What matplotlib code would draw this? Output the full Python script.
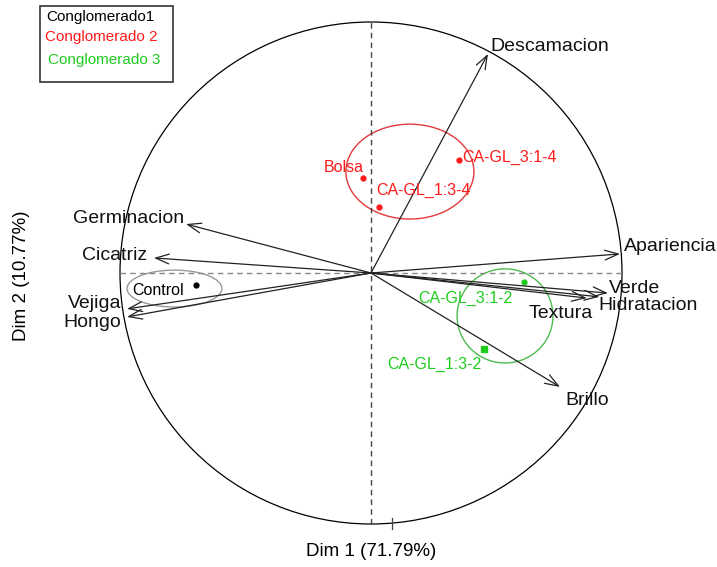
import numpy as np
import matplotlib.pyplot as plt
from matplotlib.patches import Ellipse, Circle, Rectangle

plt.rcParams['font.family'] = ['Liberation Sans', 'DejaVu Sans']

# Variables (correlation circle coordinates)
variables = ['Descamacion', 'Apariencia', 'Verde', 'Hidratacion', 'Textura',
             'Brillo', 'Germinacion', 'Cicatriz', 'Vejiga', 'Hongo']
var_x = [0.466, 0.992, 0.944, 0.91, 0.86, 0.753, -0.737, -0.865, -0.972, -0.972]
var_y = [0.873, 0.076, -0.080, -0.095, -0.100, -0.454, 0.195, 0.060, -0.143, -0.175]

# Treatments (projected individuals)
treatments = ['Control', 'Bolsa', 'CA-GL_1:3-4', 'CA-GL_3:1-4', 'CA-GL_3:1-2', 'CA-GL_1:3-2']
trt_x = [-0.697, -0.032, 0.032, 0.351, 0.610, 0.450]
trt_y = [-0.048, 0.378, 0.263, 0.450, -0.036, -0.303]
trt_cluster = [0, 1, 1, 1, 2, 2]

# Cluster ellipses: centre, width, height
clusters = ['Conglomerado1', 'Conglomerado 2', 'Conglomerado 3']
ell_cx = [-0.783, 0.155, 0.534]
ell_cy = [-0.062, 0.404, -0.171]
ell_w = [0.378, 0.510, 0.382]
ell_h = [0.147, 0.378, 0.375]

dim1 = 71.79
dim2 = 10.77

text_col = ['black', '#FF1A1A', '#1FCC1F']
ell_col = ['#999999', '#E23A3A', '#4DBB4D']

W, H = 717, 567
fig = plt.figure(figsize=(W / 100, H / 100), dpi=100)

# unit circle centred at pixel (371, 273), radius 251 px
cx, cy, r = 371, 273, 251
lim = 1.5
ax = fig.add_axes([(cx - lim * r) / W, (H - cy - lim * r) / H, 2 * lim * r / W, 2 * lim * r / H])
ax.set_xlim(-lim, lim)
ax.set_ylim(-lim, lim)
ax.set_aspect('equal')
ax.axis('off')

ax.add_patch(Circle((0, 0), 1, fill=False, color='black', lw=0.9))
ax.plot([-1, 1], [0, 0], ls=(0, (4, 3)), color='#888888', lw=1)
ax.plot([0, 0], [-1, 1], ls=(0, (4, 3)), color='#444444', lw=1)
ax.plot([0.084, 0.084], [-0.976, -1.02], color='#444444', lw=0.9)

# arrows and labels
for name, x, y in zip(variables, var_x, var_y):
    ax.annotate('', xy=(x, y), xytext=(0, 0),
                arrowprops=dict(arrowstyle='->,head_length=0.6,head_width=0.22',
                                color='#222222', lw=0.9,
                                mutation_scale=16, shrinkA=0, shrinkB=0))

var_off = {'Descamacion': (2, 5, 'left'), 'Apariencia': (3, 5, 'left'),
           'Verde': (1, 3, 'left'), 'Hidratacion': (-1, -6, 'left'),
           'Textura': (-42, -11, 'left'), 'Brillo': (4, -10, 'left'),
           'Germinacion': (-1, 4, 'right'), 'Cicatriz': (-5, 2, 'right'),
           'Vejiga': (-4, 4, 'right'), 'Hongo': (-4, -4, 'right')}
for name, x, y in zip(variables, var_x, var_y):
    dx, dy, ha = var_off[name]
    ax.annotate(name, (x, y), xytext=(dx, dy), textcoords='offset points',
                ha=ha, va='center', fontsize=14, color='#111111')

# cluster ellipses
for i in range(len(clusters)):
    ax.add_patch(Ellipse((ell_cx[i], ell_cy[i]), ell_w[i], ell_h[i], fill=False,
                         color=ell_col[i], lw=1))

# treatment points and labels
trt_off = {'Control': (-27, -4), 'Bolsa': (-14, 8), 'CA-GL_1:3-4': (32, 12),
           'CA-GL_3:1-4': (36, 2), 'CA-GL_3:1-2': (-42, -12), 'CA-GL_1:3-2': (-36, -11)}
for name, x, y, k in zip(treatments, trt_x, trt_y, trt_cluster):
    marker = 's' if name == 'CA-GL_1:3-2' else 'o'
    size = 5 if marker == 's' else 3.5
    ax.plot(x, y, marker=marker, color=text_col[k], ms=size, ls='none')
    dx, dy = trt_off[name]
    ax.annotate(name, (x, y), xytext=(dx, dy), textcoords='offset points',
                ha='center', va='center', fontsize=11.5, color=text_col[k])

# axis titles
fig.text(cx / W, 1 - 551 / H, f'Dim 1 ({dim1:.2f}%)', ha='center', va='center', fontsize=13.5)
fig.text(22 / W, 1 - 276 / H, f'Dim 2 ({dim2:.2f}%)', ha='center', va='center',
         fontsize=13.5, rotation=90)

# legend box
fig.patches.append(Rectangle((40 / W, 1 - 82 / H), 133 / W, 76 / H, fill=False,
                             edgecolor='#333333', lw=1.2, transform=fig.transFigure))
leg_y = [17, 37, 60]
leg_x = [46, 45, 48]
for i, lab in enumerate(clusters):
    fig.text(leg_x[i] / W, 1 - leg_y[i] / H, lab, ha='left', va='center',
             fontsize=11, color=text_col[i])

fig.savefig('out.png', dpi=100)
